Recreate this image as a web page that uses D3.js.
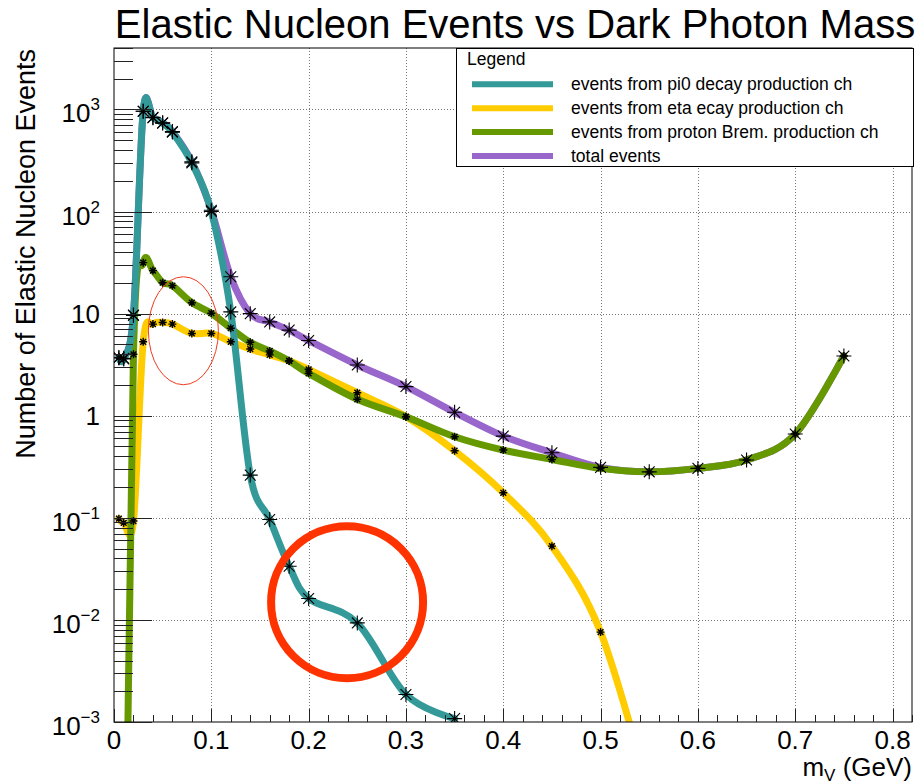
<!DOCTYPE html>
<html><head><meta charset="utf-8">
<script src="https://cdn.jsdelivr.net/npm/d3@7"></script>
<style>
body{margin:0;background:#fff;}
svg{display:block;font-family:"Liberation Sans",Arial,Helvetica,sans-serif;}
</style>
</head><body>
<svg id="c" width="917" height="782"></svg>
<script>
// ---------------- data ----------------
const mass  = [0.005,0.01,0.02,0.03,0.04,0.05,0.06,0.08,0.10,0.12,0.14,0.16,0.18,0.20,0.25,0.30,0.35,0.40,0.45,0.50,0.55,0.60,0.65,0.70,0.75];
const pi0   = [3.7,3.6,9.6,960,830,735,600,300,100,10.4,0.262,0.0964,0.0336,0.0162,0.00935,0.00186,0.00108];
const eta   = [0.098,0.089,0.093,5.3,7.9,8.2,7.9,6.4,6.4,5.3,4.5,3.95,3.45,2.85,1.68,0.98,0.454,0.176,0.0528,0.0076,0.0002];
const brem  = [1e-6,1e-6,4,31.6,26.4,20.1,18.8,12.8,10.1,7.2,5.24,4.31,3.44,2.6,1.45,0.977,0.623,0.461,0.373,0.305,0.282,0.305,0.368,0.662,3.85];
const total = [3.7,3.65,9.7,960,836,739,607,307,103,23,10,8.3,6.9,5.45,3.14,1.93,1.08,0.632,0.434,0.312,0.282,0.305,0.368,0.662,3.85];

const legendLabels = ["events from pi0 decay production ch","events from eta ecay production ch","events from proton Brem. production ch","total events"];
const seriesColors = ["#339999","#ffcc00","#669900","#9966cc"];
const xTickValues = [0,0.1,0.2,0.3,0.4,0.5,0.6,0.7,0.8];
const xTickLabels = ["0","0.1","0.2","0.3","0.4","0.5","0.6","0.7","0.8"];
const yTickValues = [1e-3,1e-2,1e-1,1,10,100,1000];
const yTickLabels = [["10","\u22123"],["10","\u22122"],["10","\u22121"],["1",""],["10",""],["10","2"],["10","3"]];
// annotation marks (data coordinates)
const annotations = [
  {x:0.0713, y:6.8, rx:35, ry:54, w:1, color:"#f03a20"},
  {x:0.2395, y:0.0149, rx:76, ry:76, w:8, color:"#ff3300"}
];

// ---------------- layout ----------------
const svg = d3.select("#c");
const L=114, R=912, T=48, B=722;
const x = d3.scaleLinear().domain([0,0.82]).range([L,R]);
const y = d3.scaleLog().domain([1e-3,4000]).range([B,T]);

svg.append("rect").attr("width",917).attr("height",782).attr("fill","#fff");

// title
svg.append("text").attr("x",515).attr("y",38).attr("text-anchor","middle")
  .attr("font-size",40).text("Elastic Nucleon Events vs Dark Photon Mass");

// grid
const grid = svg.append("g").attr("stroke","#777").attr("stroke-width",1).attr("stroke-dasharray","1,2");
xTickValues.filter(v=>v>0).forEach(v=>{
  grid.append("line").attr("x1",Math.round(x(v))+0.5).attr("x2",Math.round(x(v))+0.5).attr("y1",T).attr("y2",B);
});
yTickValues.filter(v=>v>1e-3).forEach(v=>{
  grid.append("line").attr("y1",Math.round(y(v))+0.5).attr("y2",Math.round(y(v))+0.5).attr("x1",L).attr("x2",R);
});

// clip
svg.append("clipPath").attr("id","pc").append("rect").attr("x",L).attr("y",T).attr("width",R-L).attr("height",B-T);
const plot = svg.append("g").attr("clip-path","url(#pc)");

const series = [
  {vals:total, color:seriesColors[3], big:true},
  {vals:eta,   color:seriesColors[1], big:false},
  {vals:brem,  color:seriesColors[2], big:false},
  {vals:pi0,   color:seriesColors[0], big:true}
];
const line = d3.line().x(d=>x(d[0])).y(d=>y(d[1])).curve(d3.curveCatmullRom.alpha(0));
series.forEach(s=>{
  const pts = s.vals.map((v,i)=>[mass[i],v]);
  s.pts = pts;
  plot.append("path").attr("d",line(pts)).attr("fill","none").attr("stroke",s.color)
    .attr("stroke-width",7).attr("stroke-linejoin","round").attr("stroke-linecap","round");
});
function star(cx,cy,r){
  const d=r*0.72;
  return `M${cx-r},${cy}H${cx+r}M${cx},${cy-r}V${cy+r}M${cx-d},${cy-d}L${cx+d},${cy+d}M${cx-d},${cy+d}L${cx+d},${cy-d}`;
}
series.forEach(s=>{
  s.pts.forEach(p=>{
    plot.append("path").attr("d",star(x(p[0]),y(p[1]),s.big?7.5:4))
      .attr("stroke","#000").attr("stroke-width",s.big?1.1:1.4).attr("fill","none");
    if(!s.big) plot.append("circle").attr("cx",x(p[0])).attr("cy",y(p[1])).attr("r",1.6).attr("fill","#000");
  });
});

// frame
svg.append("rect").attr("x",L).attr("y",T).attr("width",R-L).attr("height",B-T)
  .attr("fill","none").attr("stroke","#000").attr("stroke-width",1);

// y ticks
const ax = svg.append("g").attr("stroke","#222").attr("stroke-width",1);
for(let e=-3;e<4;e++){
  for(let m=1;m<10;m++){
    const v=m*Math.pow(10,e);
    if(v>4000) break;
    const yy=Math.round(y(v))+0.5;
    ax.append("line").attr("x1",L).attr("x2",L+(m===1?38:19)).attr("y1",yy).attr("y2",yy);
  }
}
// x ticks
for(let k=0;k<=41;k++){
  const v=k*0.02; const xx=Math.round(x(v))+0.5;
  const major = (k%5===0);
  ax.append("line").attr("x1",xx).attr("x2",xx).attr("y1",B).attr("y2",B-(major?13:7));
}

// y tick labels
yTickValues.forEach((v,i)=>{
  const [base,sup]=yTickLabels[i];
  const t=svg.append("text").attr("x",100).attr("y",y(v)+(sup?13:9.5)).attr("text-anchor","end").attr("font-size",26);
  t.append("tspan").text(base);
  if(sup) t.append("tspan").attr("font-size",17).attr("dy",-12).text(sup);
});
// x tick labels
xTickValues.forEach((v,i)=>{
  svg.append("text").attr("x",x(v)).attr("y",749).attr("text-anchor","middle").attr("font-size",26).text(xTickLabels[i]);
});
// axis titles
const xt=svg.append("text").attr("x",912).attr("y",776).attr("text-anchor","end").attr("font-size",26);
xt.append("tspan").text("m");
xt.append("tspan").attr("font-size",17).attr("dy",5).text("V");
xt.append("tspan").attr("dy",-5).text(" (GeV)");
svg.append("text").attr("transform","translate(35,49) rotate(-90)").attr("text-anchor","end")
  .attr("font-size",27).text("Number of Elastic Nucleon Events");

// legend
const lg = svg.append("g");
lg.append("rect").attr("x",456.5).attr("y",48.5).attr("width",457).attr("height",118).attr("fill","#fff").attr("stroke","#000");
lg.append("text").attr("x",467).attr("y",64.5).attr("font-size",17.5).text("Legend");
legendLabels.forEach((lab,i)=>{
  const yy=84.3+i*23.9;
  lg.append("line").attr("x1",472).attr("x2",553).attr("y1",yy).attr("y2",yy).attr("stroke",seriesColors[i]).attr("stroke-width",6);
  lg.append("text").attr("x",571).attr("y",yy+6).attr("font-size",17.5).text(lab);
});

// annotations
annotations.forEach(a=>{
  svg.append("ellipse").attr("cx",x(a.x)).attr("cy",y(a.y)).attr("rx",a.rx).attr("ry",a.ry)
    .attr("fill","none").attr("stroke",a.color).attr("stroke-width",a.w);
});
</script>
</body></html>
